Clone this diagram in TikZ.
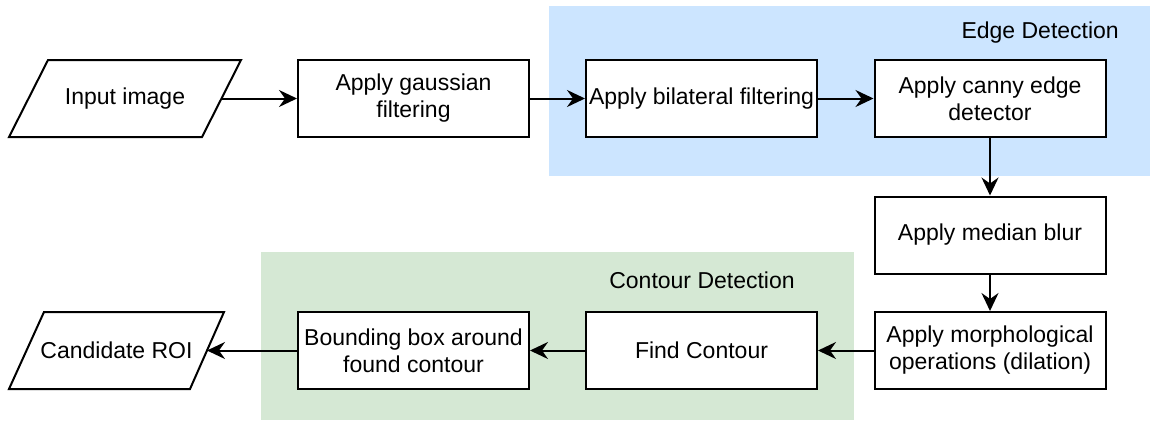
\documentclass[tikz,border=0pt]{standalone}
\usepackage{fontspec}
\setmainfont{Liberation Sans}
\usetikzlibrary{arrows.meta}

\definecolor{edgebg}{HTML}{CCE5FF}
\definecolor{contourbg}{HTML}{D5E8D4}

\tikzset{
  stage/.style={draw=black, line width=2pt, fill=white, rectangle,
    minimum width=231pt, minimum height=77pt, inner sep=0pt, align=center,
    font=\fontsize{23}{27}\selectfont},
  iotext/.style={inner sep=0pt, font=\fontsize{23}{27}\selectfont},
  ioshape/.style={draw=black, line width=2pt, fill=white, line join=miter},
  flow/.style={line width=2pt, -{Stealth[length=18pt,width=17pt,inset=6pt]}},
  grouplabel/.style={font=\fontsize{23}{27}\selectfont, inner sep=0pt}
}

\begin{document}
\begin{tikzpicture}[x=1pt,y=-1pt]
\useasboundingbox (0,0) rectangle (1150,421);

% group backgrounds
\fill[edgebg] (549,6) rectangle (1150,176);
\fill[contourbg] (261,252) rectangle (854,420);
\node[grouplabel, anchor=east] (edgelbl) at (1119,33) {Edge Detection};
\node[grouplabel] (contourlbl) at (702,280) {Contour Detection};

% input / output parallelograms
\draw[ioshape] (48,60) -- (241,60) -- (202,137) -- (9,137) -- cycle;
\node[iotext] (input) at (125,98.5) {Input image};
\coordinate (inputR) at (221.5,98.5);

\draw[ioshape] (44,312) -- (224,312) -- (190,389) -- (9,389) -- cycle;
\node[iotext] (roi) at (116.5,350.5) {Candidate ROI};
\coordinate (roiR) at (207,350.5);

% top row
\node[stage] (gauss) at (413.5,98.5) {Apply gaussian\\filtering};
\node[stage] (bilat) at (701.5,98.5) {Apply bilateral filtering};
\node[stage] (canny) at (990,98.5) {Apply canny edge\\detector};

% right column
\node[stage] (median) at (990,235) {Apply median blur};
\node[stage] (morph) at (990,350.5) {Apply morphological\\operations (dilation)};

% bottom row
\node[stage] (find) at (701.5,350.5) {Find Contour};
\node[stage] (bbox) at (413.5,350.5) {Bounding box around\\found contour};

% connectors
\draw[flow] (inputR) -- (gauss.west);
\draw[flow] (gauss.east) -- (bilat.west);
\draw[flow] (bilat.east) -- (canny.west);
\draw[flow] (canny.south) -- (median.north);
\draw[flow] (median.south) -- (morph.north);
\draw[flow] (morph.west) -- (find.east);
\draw[flow] (find.west) -- (bbox.east);
\draw[flow] (bbox.west) -- (roiR);
\end{tikzpicture}
\end{document}
